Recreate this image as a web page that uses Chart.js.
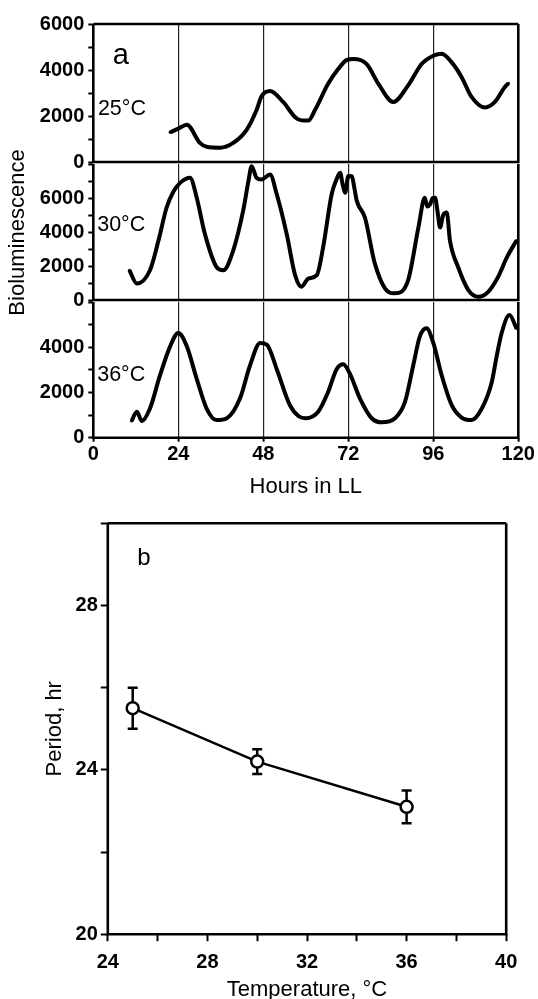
<!DOCTYPE html>
<html>
<head>
<meta charset="utf-8">
<script src="https://cdn.jsdelivr.net/npm/chart.js@4.4.0/dist/chart.umd.min.js"></script>
<style>
  html, body { margin: 0; padding: 0; background: #fff; }
  #page { position: relative; width: 538px; height: 999px; overflow: hidden; background: #fff; }
  canvas { position: absolute; left: 0; }
</style>
</head>
<body>
<div id="page">
  <canvas id="a25" width="538" height="170" style="top:8px"></canvas>
  <canvas id="a30" width="538" height="170" style="top:148px"></canvas>
  <canvas id="a36" width="538" height="222" style="top:286px"></canvas>
  <canvas id="pb" width="538" height="500" style="top:505px"></canvas>
</div>
<script>
// panel a: bioluminescence traces (hours in LL, counts)
const hours25 = [21.7, 24, 26.4, 30.1, 32, 35.8, 39.5, 43.3, 46.1, 47.5, 49.9, 53.6, 57, 58.8, 60.7, 62.6, 66.3, 69.2, 71.5, 73.4, 77.2, 80.5, 84.7, 88.9, 92.7, 96, 98.4, 101.2, 104, 106.8, 110.6, 113.4, 116.2, 117.2];
const lum25 = [1290, 1450, 1620, 830, 660, 620, 830, 1400, 2260, 2860, 3090, 2610, 1950, 1810, 1800, 2260, 3400, 4050, 4430, 4480, 4260, 3400, 2610, 3330, 4260, 4620, 4710, 4330, 3690, 2830, 2370, 2610, 3260, 3420];

const hours30 = [10.2, 12.3, 16, 18.4, 20.7, 22.6, 24.5, 27.3, 29.2, 31.5, 34.8, 36.7, 39.5, 42.3, 43.8, 44.7, 46.1, 47.5, 49.9, 51.8, 54.6, 57, 58.8, 60.7, 63.1, 64.9, 67.3, 68.5, 69.7, 70.4, 71.1, 72, 73, 73.7, 74.4, 76.7, 79.5, 83.3, 85.2, 88.9, 91.8, 93.6, 94.3, 95.1, 95.8, 96.5, 97.2, 97.9, 98.8, 99.8, 100.7, 103, 105.9, 108.7, 111.5, 114.3, 116.8, 119.5];
const lum30 = [1750, 970, 1750, 3500, 5440, 6370, 6890, 7190, 6020, 3890, 1940, 1750, 2910, 5240, 6990, 7870, 7190, 7090, 7380, 6220, 3890, 1450, 780, 1260, 1460, 3110, 6220, 7000, 7480, 6800, 6310, 7300, 7280, 6600, 5830, 4850, 2140, 480, 390, 1170, 4270, 6020, 5500, 5630, 6000, 6020, 5200, 4270, 5000, 5150, 3500, 1940, 580, 190, 480, 1360, 2520, 3500];

const hours36 = [10.8, 12.3, 13.7, 16, 18.8, 21.7, 24, 26.4, 29.2, 32, 34.8, 37.7, 41.4, 44.2, 47.1, 49, 51.8, 55.5, 58, 60, 63.5, 66.3, 68.7, 70.6, 72.5, 75.3, 78.6, 81.4, 85.2, 88, 90.3, 92.2, 94.1, 96, 98.4, 101.2, 104, 106.8, 109.7, 112.5, 113.9, 115.3, 117.5, 119.5];
const lum36 = [740, 1150, 740, 1290, 2740, 4040, 4630, 4040, 2600, 1290, 780, 860, 1730, 3170, 4190, 4120, 3030, 1440, 950, 860, 1150, 2020, 3030, 3250, 2810, 1730, 860, 680, 860, 1580, 3170, 4480, 4840, 4190, 2740, 1440, 890, 780, 1290, 2450, 3610, 4630, 5420, 4830];

// panel b: free-running period vs temperature
const temps = [25, 30, 36];
const periods = [25.5, 24.2, 23.1];
const periodErr = [0.5, 0.3, 0.4];

Chart.defaults.font.family = '"Liberation Sans", Arial, Helvetica, sans-serif';
Chart.defaults.color = '#000';

const tickFont = { size: 20, weight: 'bold' };
const titleFont = { size: 22 };

// box round the plot area (top edge can be left to the panel above)
const frame = {
  id: 'frame',
  afterDraw(chart, args, opts) {
    const { ctx, chartArea: a } = chart;
    ctx.save();
    ctx.strokeStyle = '#000';
    ctx.lineWidth = 2.6;
    ctx.beginPath();
    if (opts.top !== false) {
      ctx.moveTo(a.left, a.top); ctx.lineTo(a.right, a.top);
    }
    ctx.moveTo(a.right, a.top); ctx.lineTo(a.right, a.bottom);
    ctx.lineTo(a.left, a.bottom); ctx.lineTo(a.left, a.top);
    ctx.stroke();
    ctx.restore();
  }
};

// free text: panel letters, temperatures, rotated y title
const notes = {
  id: 'notes',
  afterDraw(chart, args, opts) {
    const { ctx, scales } = chart;
    (opts.items || []).forEach((n) => {
      ctx.save();
      ctx.font = (n.size || 21) + 'px "Liberation Sans", Arial, sans-serif';
      ctx.fillStyle = '#000';
      ctx.textAlign = n.align || 'left';
      ctx.textBaseline = n.baseline || 'alphabetic';
      let x, y;
      if (n.px !== undefined) {
        x = n.px; y = n.py;
      } else {
        x = scales.x.getPixelForValue(n.x);
        y = scales.y.getPixelForValue(n.y);
      }
      ctx.translate(x, y);
      if (n.rotate) ctx.rotate(n.rotate * Math.PI / 180);
      ctx.fillText(n.text, 0, 0);
      ctx.restore();
    });
  }
};

// vertical error bars with caps, drawn under the markers
const errorBars = {
  id: 'errorBars',
  beforeDatasetsDraw(chart) {
    const { ctx, scales } = chart;
    chart.data.datasets.forEach((ds, i) => {
      if (!ds.errors) return;
      const meta = chart.getDatasetMeta(i);
      ctx.save();
      ctx.strokeStyle = '#000';
      ctx.lineWidth = 2.5;
      meta.data.forEach((pt, j) => {
        const v = ds.data[j].y;
        const e = ds.errors[j];
        const y1 = scales.y.getPixelForValue(v + e);
        const y2 = scales.y.getPixelForValue(v - e);
        ctx.beginPath();
        ctx.moveTo(pt.x, y1); ctx.lineTo(pt.x, y2);
        ctx.moveTo(pt.x - 5, y1); ctx.lineTo(pt.x + 5, y1);
        ctx.moveTo(pt.x - 5, y2); ctx.lineTo(pt.x + 5, y2);
        ctx.stroke();
      });
      ctx.restore();
    });
  }
};

function bioChart(id, hours, lum, yMax, labelMax, padding, bottomAxis, topEdge, items) {
  return new Chart(document.getElementById(id), {
    type: 'line',
    data: {
      datasets: [{
        data: hours.map((h, i) => ({ x: h, y: lum[i] })),
        borderColor: '#000',
        borderWidth: 4,
        pointRadius: 1.5,
        pointBorderWidth: 0,
        pointBackgroundColor: '#000',
        cubicInterpolationMode: 'monotone'
      }]
    },
    options: {
      responsive: false,
      animation: false,
      devicePixelRatio: 1,
      layout: { padding: padding },
      plugins: {
        legend: { display: false },
        tooltip: { enabled: false },
        frame: { top: topEdge },
        notes: { items: items }
      },
      scales: {
        x: {
          type: 'linear',
          min: 0,
          max: 120,
          border: { display: false },
          grid: {
            color: (c) => (c.tick && c.tick.value > 0 && c.tick.value < 120) ? '#222' : 'rgba(0,0,0,0)',
            lineWidth: 1.2,
            drawTicks: bottomAxis,
            tickLength: 4,
            tickColor: '#000',
            tickWidth: 2
          },
          ticks: { display: bottomAxis, stepSize: 24, padding: 0.6, font: tickFont, maxRotation: 0 },
          title: { display: bottomAxis, text: 'Hours in LL', font: titleFont, padding: { top: 7.3, bottom: 2 } }
        },
        y: {
          min: 0,
          max: yMax,
          border: { display: false },
          grid: { drawOnChartArea: false, tickLength: 5, tickColor: '#000', tickWidth: 2 },
          ticks: {
            stepSize: 1000,
            autoSkip: false,
            padding: 4,
            font: tickFont,
            callback: (v) => (v % 2000 === 0 && v <= labelMax) ? String(v) : ''
          },
          afterFit: (s) => { s.width = 93.3; }
        }
      }
    },
    plugins: [frame, notes]
  });
}

bioChart('a25', hours25, lum25, 6000, 6000, { left: 0, right: 19.7, top: 14.7, bottom: 15.3 }, false, true, [
  { text: 'a', x: 7.76, y: 4280, size: 29, align: 'center' },
  { text: '25°C', x: 1.3, y: 2044, size: 21.5 }
]);
bioChart('a30', hours30, lum30, 8000, 6000, { left: 0, right: 19.7, top: 14.7, bottom: 18 }, false, false, [
  { text: '30°C', x: 1.1, y: 4079, size: 21.5 },
  { text: 'Bioluminescence', px: 17.7, py: 84.5, size: 22, rotate: -90, align: 'center', baseline: 'middle' }
]);
bioChart('a36', hours36, lum36, 6000, 4000, { left: 0, right: 19.7, top: 14, bottom: 5.4 }, true, false, [
  { text: '36°C', x: 1.1, y: 2522, size: 21.5 }
]);

new Chart(document.getElementById('pb'), {
  type: 'line',
  data: {
    datasets: [{
      data: temps.map((t, i) => ({ x: t, y: periods[i] })),
      errors: periodErr,
      borderColor: '#000',
      borderWidth: 2.5,
      pointRadius: 6,
      pointBorderWidth: 2.5,
      pointBorderColor: '#000',
      pointBackgroundColor: '#fff'
    }]
  },
  options: {
    responsive: false,
    animation: false,
    devicePixelRatio: 1,
    layout: { padding: { left: 0, right: 31.8, top: 18.3, bottom: 0 } },
    plugins: {
      legend: { display: false },
      tooltip: { enabled: false },
      frame: { top: true },
      notes: { items: [{ text: 'b', x: 25.18, y: 28.99, size: 24 }] }
    },
    scales: {
      x: {
        type: 'linear',
        min: 24,
        max: 40,
        border: { display: false },
        grid: { drawOnChartArea: false, tickLength: 7, tickColor: '#000', tickWidth: 2 },
        ticks: {
          stepSize: 2,
          autoSkip: false,
          padding: 9.2,
          font: tickFont,
          maxRotation: 0,
          callback: (v) => (v % 4 === 0) ? String(v) : ''
        },
        title: { display: true, text: 'Temperature, °C', font: titleFont, padding: { top: -7, bottom: 2 } }
      },
      y: {
        min: 20,
        max: 30,
        border: { display: false },
        grid: { drawOnChartArea: false, tickLength: 7, tickColor: '#000', tickWidth: 2 },
        ticks: {
          stepSize: 2,
          autoSkip: false,
          padding: 3,
          font: tickFont,
          callback: (v) => (v % 4 === 0 && v < 30) ? String(v) : ''
        },
        title: { display: true, text: 'Period, hr', font: titleFont, padding: { top: 41.8, bottom: 0 } },
        afterFit: (s) => { s.width = 107.8; }
      }
    }
  },
  plugins: [errorBars, frame, notes]
});
</script>
</body>
</html>
